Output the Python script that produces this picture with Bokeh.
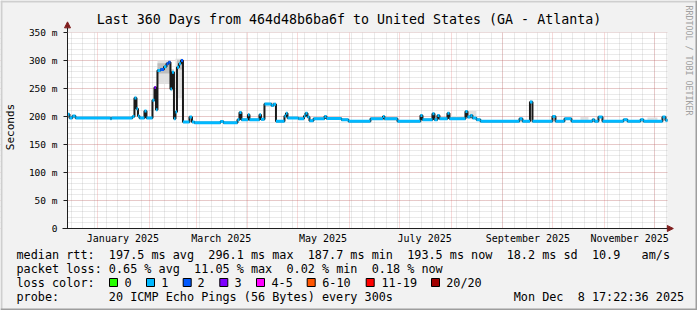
import datetime as dt
import math
import re
from bokeh.plotting import figure
from bokeh.models import (FixedTicker, Label, Arrow, NormalHead, Range1d, BoxAnnotation)
from bokeh.embed import file_html
from bokeh.resources import INLINE

# ---------------- data ----------------
ORIGIN = dt.date(2024, 12, 13)          # day 0 of the x axis
X_FIRST, X_LAST = 0.72, 360.72          # Dec 13 2024 17:22 .. Dec 8 2025 17:22

# median RTT as steps: start day of each step and its value (ms)
step_day = [0.7, 1.9, 3.7, 5.5, 26.5, 27.1, 39.7, 40.9, 42.1, 43.0, 43.9, 46.9, 48.1,
            51.7, 52.9, 53.8, 54.7, 56.5, 58.6, 60.1, 61.3, 62.5, 63.4, 64.6, 65.5, 66.4,
            67.6, 68.8, 70.0, 73.9, 75.4, 76.9, 92.5, 94.3, 102.7, 103.9, 105.1, 109.0,
            109.9, 115.9, 116.8, 118.9, 123.1, 124.3, 125.8, 130.9, 131.8, 132.7, 139.3,
            142.6, 143.5, 144.7, 145.9, 148.3, 154.9, 156.1, 165.1, 169.3, 182.5, 190.0,
            190.9, 198.7, 212.5, 213.7, 219.7, 220.9, 222.7, 223.9, 228.7, 229.9, 239.5,
            240.7, 242.5, 243.7, 246.1, 248.5, 271.9, 273.7, 278.2, 279.7, 291.7, 293.5,
            298.9, 303.1, 315.7, 316.9, 319.3, 321.7, 334.3, 336.7, 344.5, 346.3, 357.7,
            359.5]
median_ms = [204, 197.5, 201, 197.5, 196, 197.5, 200, 233, 214, 201, 197.5, 210, 197.5,
             229, 252, 212, 282, 284, 289, 294, 297, 249, 279, 196, 208, 288,
             294, 300, 190, 199, 190, 189, 191, 189, 194, 207, 194, 203,
             194, 203, 195, 222.5, 219.5, 222, 191.5, 201, 206, 197.5, 196,
             201, 206, 199, 192.5, 196, 200, 196.5, 194, 191.5, 196, 200,
             196, 191.5, 202, 194, 205, 194, 202, 196, 206, 196, 209,
             199, 202, 197.5, 194, 191.5, 196, 191.5, 226, 191.5, 200, 191.5,
             196, 191.5, 194, 191.5, 199, 191.5, 194, 191.5, 194, 191.5, 199,
             193.5]
loss_bin = [1] * len(step_day)
for i, b in ((14, 3), (17, 2), (19, 2), (20, 2), (27, 2)):
    loss_bin[i] = b

# smoke (spread of the 20 pings)
smoke_light_start = [40.9, 54.7, 62.5, 65.5, 118.9, 190.0, 229.9, 240.7, 278.2, 308.5, 348.7]
smoke_light_end   = [42.1, 62.5, 64.6, 70.0, 125.8, 198.7, 239.5, 246.1, 279.7, 313.3, 354.7]
smoke_light_lo    = [226, 258, 245, 232, 217, 193, 195, 195, 220, 192, 192]
smoke_light_hi    = [237, 300, 285, 303, 225, 199, 201, 210, 230, 199, 198]
smoke_dark_start = [54.7, 66.4]
smoke_dark_end   = [62.5, 70.0]
smoke_dark_lo    = [277, 284]
smoke_dark_hi    = [295, 301]

y_ticks = [0, 50, 100, 150, 200, 250, 300, 350]
y_tick_labels = ["0", "50 m", "100 m", "150 m", "200 m", "250 m", "300 m", "350 m"]
month_labels = ["January 2025", "March 2025", "May 2025", "July 2025",
                "September 2025", "November 2025"]
label_months = [1, 3, 5, 7, 9, 11]

loss_names = ["0", "1", "2", "3", "4-5", "6-10", "11-19", "20/20"]
loss_colors = ["#26ff00", "#00b8ff", "#0059ff", "#7e00ff", "#ff00ff", "#ff5500", "#ff0000", "#a10000"]

stats_line = "median rtt:  197.5 ms avg  296.1 ms max  187.7 ms min  193.5 ms now  18.2 ms sd  10.9   am/s"
loss_line = "packet loss: 0.65 % avg  11.05 % max  0.02 % min  0.18 % now"
probe_text = "20 ICMP Echo Pings (56 Bytes) every 300s"
stamp_text = "Mon Dec  8 17:22:36 2025"
title_text = "Last 360 Days from 464d48b6ba6f to United States (GA - Atlanta)"

# ---------------- layout ----------------
W, H = 697, 310
FL, FR, FT, FB = 67, 667, 32, 228          # plot area in canvas pixels
MONO = "DejaVu Sans Mono"
LEG_SIZE = 11.8                            # px
ADV = LEG_SIZE * 0.602                     # monospace advance
DPX = (X_LAST - X_FIRST) / (FR - FL)       # days per pixel
MPX = 350.0 / (FB - FT)                    # ms per pixel
XR0, XR1 = X_FIRST - FL * DPX, X_LAST + (W - FR) * DPX
YR0, YR1 = -(H - FB) * MPX, 350 + FT * MPX


def dday(d):
    return (d - ORIGIN).days


month_starts = [dday(dt.date(2025, m, 1)) for m in range(1, 13)]
label_days = [dday(dt.date(2025, m, 16)) for m in label_months]
week_days = [dday(dt.date(2024, 12, 16)) + 7 * k for k in range(52)]

p = figure(width=W, height=H, output_backend="svg", toolbar_location=None,
           x_range=Range1d(XR0, XR1), y_range=Range1d(YR0, YR1),
           min_border=0, min_border_left=0, min_border_right=0, min_border_top=0,
           min_border_bottom=0, background_fill_color="#f2f2f2",
           border_fill_color="#f2f2f2")
p.outline_line_color = None

# white canvas of the graph
p.quad(left=[X_FIRST], right=[X_LAST], bottom=[0], top=[350],
       fill_color="white", line_color=None, level="image")

# grids
p.xgrid.ticker = FixedTicker(ticks=month_starts, minor_ticks=week_days)
p.ygrid.ticker = FixedTicker(ticks=y_ticks, minor_ticks=list(range(0, 351, 10)))
for g in (p.xgrid, p.ygrid):
    g.grid_line_color = "#de4f4f"
    g.grid_line_alpha = 0.42
    g.grid_line_dash = "1 1"
    g.minor_grid_line_color = "#8f8f8f"
    g.minor_grid_line_alpha = 0.38
    g.minor_grid_line_dash = "1 1"

# cover the grid outside the graph canvas
bg = "#f2f2f2"
p.quad(left=[XR0, XR0, XR0, X_LAST], right=[XR1, XR1, X_FIRST, XR1],
       bottom=[YR0, 350, YR0, YR0], top=[0, YR1, YR1, YR1],
       fill_color=bg, line_color=None)

# axes at fixed locations
xa = p.xaxis[0]
xa.fixed_location = 0
xa.bounds = (X_FIRST - 3, X_LAST)
xa.ticker = FixedTicker(ticks=label_days)
xa.major_label_overrides = {d: t for d, t in zip(label_days, month_labels)}
xa.major_tick_out = 0
xa.major_tick_in = 0
xa.minor_tick_out = 0
xa.minor_tick_in = 0
xa.major_label_standoff = 4
xa.major_label_text_font_size = "10px"
ya = p.yaxis[0]
ya.fixed_location = X_FIRST
ya.bounds = (0, 350)
ya.ticker = FixedTicker(ticks=y_ticks)
ya.major_label_overrides = {v: t for v, t in zip(y_ticks, y_tick_labels)}
ya.major_tick_out = 4
ya.major_tick_in = 0
ya.minor_tick_out = 0
ya.minor_tick_in = 0
ya.major_label_standoff = 6
ya.major_label_text_font_size = "9.5px"
for a in (xa, ya):
    a.axis_line_color = "#1f1f1f"
    a.major_tick_line_color = "#1f1f1f"
    a.major_label_text_font = MONO
    a.major_label_text_color = "black"

# smoke
p.quad(left=smoke_light_start, right=smoke_light_end, bottom=smoke_light_lo,
       top=smoke_light_hi, fill_color="#e0e0e0", line_color=None)
p.quad(left=smoke_dark_start, right=smoke_dark_end, bottom=smoke_dark_lo,
       top=smoke_dark_hi, fill_color="#bdbdbd", line_color=None)

# median
xs = step_day + [X_LAST]
ys = median_ms + [median_ms[-1]]
p.step(xs, ys, mode="after", line_color="#1a1a1a", line_width=2)
ends = step_day[1:] + [X_LAST]
p.segment(x0=step_day, x1=ends, y0=median_ms, y1=median_ms,
          line_color=[loss_colors[b] for b in loss_bin], line_width=3)

# arrows on the axes
p.add_layout(Arrow(end=NormalHead(size=6, fill_color="#801f1f", line_color="#801f1f"),
                   x_start=X_FIRST, y_start=350, x_end=X_FIRST, y_end=369,
                   line_color="#1f1f1f", line_width=1))
p.add_layout(Arrow(end=NormalHead(size=6, fill_color="#801f1f", line_color="#801f1f"),
                   x_start=X_LAST - 1, y_start=0, x_end=X_LAST + 3.5, y_end=0,
                   line_color="#1f1f1f", line_width=1))


def txt(X, Y, s, size, align="left", color="black", angle=0.0, baseline="middle"):
    p.add_layout(Label(x=X, y=H - Y, x_units="screen", y_units="screen", text=s,
                       text_font=MONO, text_font_size=size, text_align=align,
                       text_baseline=baseline, text_color=color, angle=angle))


def mono_line(X, Y, line):
    # place every run of words at its monospace column (SVG collapses spaces)
    for m in re.finditer(r"\S+(?: \S+)*", line):
        txt(X + m.start() * ADV, Y, m.group(0), f"{LEG_SIZE}px")


txt(348.5, 19, title_text, "13.3px", align="center")
txt(10, 126.5, "Seconds", "11px", align="center", angle=math.pi / 2)
txt(688, 5, "RRDTOOL / TOBI OETIKER", "8.3px", color="#a0a0a0", angle=-math.pi / 2)
mono_line(16, 254.3, stats_line)
mono_line(16, 268.3, loss_line)
mono_line(16, 282.3, "loss color:")
mono_line(16, 296, ("probe:".ljust(13) + probe_text).ljust(70) + stamp_text)

box_x = [109, 146, 182.7, 219.3, 256, 306.7, 365.7, 431]
text_x = [124, 160.7, 197, 234, 271, 321.7, 381, 445.7]
for bx, tx, name, col in zip(box_x, text_x, loss_names, loss_colors):
    p.add_layout(BoxAnnotation(left=bx, right=bx + 8, top=H - 278, bottom=H - 286,
                               left_units="screen", right_units="screen",
                               top_units="screen", bottom_units="screen",
                               fill_color=col, fill_alpha=1, line_color="black",
                               line_width=1, line_alpha=1))
    txt(tx, 282.3, name, f"{LEG_SIZE}px")

# 3-D frame of the image
def frame_band(l, r, b, t, col):
    p.add_layout(BoxAnnotation(left=l, right=r, bottom=b, top=t, left_units="screen",
                               right_units="screen", top_units="screen",
                               bottom_units="screen", fill_color=col, fill_alpha=1,
                               line_color=None))


frame_band(0, W, H - 2, H, "#cfcfcf")
frame_band(0, 2, 0, H, "#cfcfcf")
frame_band(0, W, 0, 2, "#9e9e9e")
frame_band(W - 2, W, 0, H, "#9e9e9e")

open("out.html", "w").write(file_html(p, INLINE))
